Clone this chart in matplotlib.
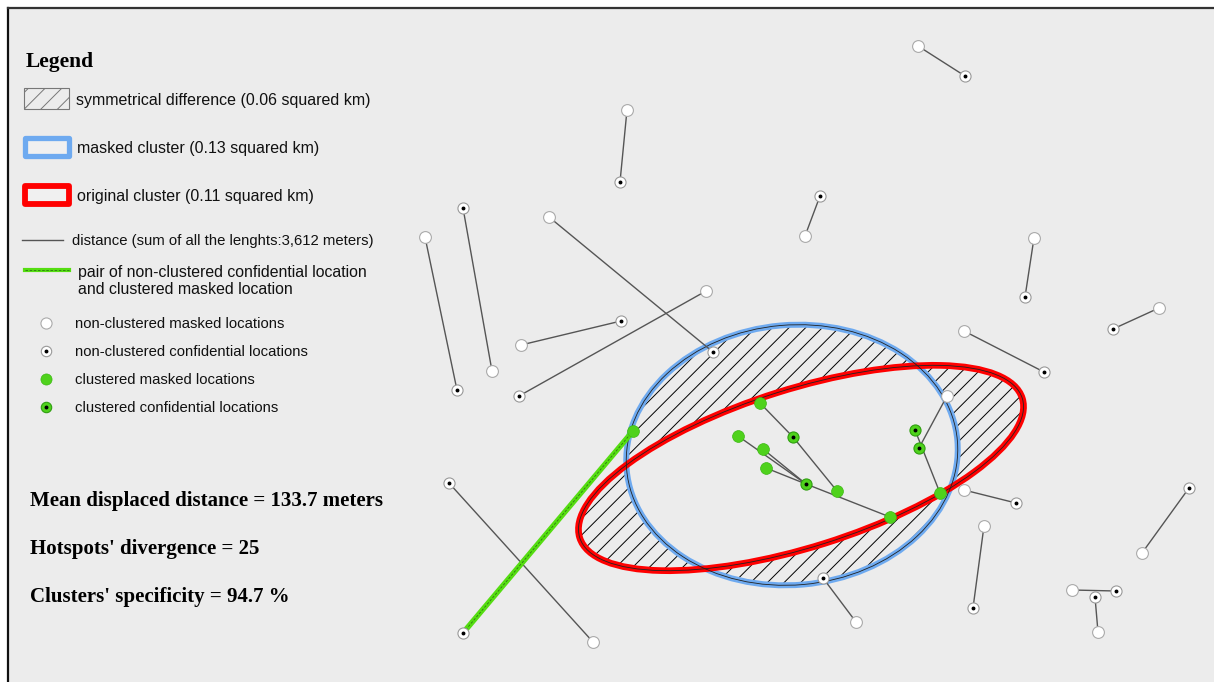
import matplotlib
matplotlib.use("Agg")
import matplotlib.pyplot as plt
from matplotlib.patches import Ellipse, Rectangle

# map is in image pixel units (x right, y down)
MAP_W, MAP_H = 1214, 682
BG = "#ececec"
BLUE = "#6eaaf0"
RED = "#ff0000"
GREEN = "#4fd21c"
LINE_GREY = "#555555"

# non-clustered masked locations
nc_masked_x = [918, 627, 805, 492, 425, 549, 706, 521, 1034, 1159, 964, 947,
               964, 984, 1142, 1072, 1098, 856, 593]
nc_masked_y = [46, 110, 236, 371, 237, 217, 291, 345, 238, 308, 331, 396,
               490, 526, 553, 590, 632, 622, 642]

# non-clustered confidential locations
nc_conf_x = [965, 620, 820, 463, 457, 713, 519, 621, 1025, 1113, 1044, 1016,
             973, 1189, 1116, 1095, 823, 449, 463]
nc_conf_y = [76, 182, 196, 208, 390, 352, 396, 321, 297, 329, 372, 503,
             608, 488, 591, 597, 578, 483, 633]

# clustered masked / confidential locations
cl_masked_x = [760, 738, 763, 766, 837, 890, 940, 633]
cl_masked_y = [403, 436, 449, 468, 491, 517, 493, 431]
cl_conf_x = [793, 806, 915, 919]
cl_conf_y = [437, 484, 430, 448]

# displacement links (masked -> confidential)
link_x0 = [918, 627, 805, 492, 425, 549, 706, 521, 1034, 1159, 964, 947, 964,
           984, 1142, 1072, 1098, 856, 593, 760, 837, 738, 763, 766, 890, 940]
link_y0 = [46, 110, 236, 371, 237, 217, 291, 345, 238, 308, 331, 396, 490,
           526, 553, 590, 632, 622, 642, 403, 491, 436, 449, 468, 517, 493]
link_x1 = [965, 620, 820, 463, 457, 713, 519, 621, 1025, 1113, 1044, 919, 1016,
           973, 1189, 1116, 1095, 823, 449, 793, 793, 806, 806, 806, 806, 915]
link_y1 = [76, 182, 196, 208, 390, 352, 396, 321, 297, 329, 372, 448, 503,
           608, 488, 591, 597, 578, 483, 437, 437, 484, 484, 484, 484, 430]

# the one pair: non-clustered confidential -> clustered masked
green_pair_x = [463, 633]
green_pair_y = [633, 431]

# cluster ellipses: centre, width, height, angle
masked_cluster = ((792, 455), 332, 260, -5)
orig_cluster = ((801, 468), 464, 158, -17.5)

legend_labels = [
    "symmetrical difference (0.06 squared km)",
    "masked cluster (0.13 squared km)",
    "original cluster (0.11 squared km)",
    "distance (sum of all the lenghts:3,612 meters)",
    "pair of non-clustered confidential location\nand clustered masked location",
    "non-clustered masked locations",
    "non-clustered confidential locations",
    "clustered masked locations",
    "clustered confidential locations",
]
stats = [
    "Mean displaced distance = 133.7 meters",
    "Hotspots' divergence = 25",
    "Clusters' specificity = 94.7 %",
]

plt.rcParams["hatch.linewidth"] = 0.7

fig = plt.figure(figsize=(12.14, 6.82), dpi=100, facecolor="white")
ax = fig.add_axes([0, 0, 1, 1])
ax.set_xlim(0, MAP_W)
ax.set_ylim(MAP_H, 0)
ax.axis("off")

# panel background and frame
ax.add_patch(Rectangle((8, 8), MAP_W, MAP_H, fc=BG, ec="none", zorder=0))
ax.plot([8, 8], [MAP_H, 8], color="#111111", lw=1.6, zorder=1)
ax.plot([8, MAP_W], [8, 8], color="#333333", lw=1.6, zorder=1)


def ellipse(spec, **kw):
    (cx, cy), w, h, ang = spec
    return Ellipse((cx, cy), w, h, angle=ang, **kw)


# symmetrical difference: hatch both, blank out the intersection
ax.add_patch(ellipse(masked_cluster, fc="none", ec="k", lw=0, hatch="//", zorder=2))
ax.add_patch(ellipse(orig_cluster, fc="none", ec="k", lw=0, hatch="//", zorder=2))
inter = ellipse(masked_cluster, fc=BG, ec="none", lw=0, zorder=3)
ax.add_patch(inter)
inter.set_clip_path(ellipse(orig_cluster, transform=ax.transData))

# cluster outlines
ax.add_patch(ellipse(masked_cluster, fc="none", ec=BLUE, lw=4.3, zorder=4))
ax.add_patch(ellipse(orig_cluster, fc="none", ec=RED, lw=4.8, zorder=5))
ax.add_patch(ellipse(masked_cluster, fc="none", ec="#222222", lw=0.6, zorder=6))
ax.add_patch(ellipse(orig_cluster, fc="none", ec="#222222", lw=0.6, zorder=6))

# distance lines
for x0, y0, x1, y1 in zip(link_x0, link_y0, link_x1, link_y1):
    ax.plot([x0, x1], [y0, y1], color=LINE_GREY, lw=1.0, zorder=7)

ax.plot(green_pair_x, green_pair_y, color="#55dd11", lw=4.0, zorder=7,
        solid_capstyle="round")
ax.plot(green_pair_x, green_pair_y, color="#2a7a10", lw=0.6, zorder=7,
        dashes=(3, 2))

# locations
ax.plot(nc_masked_x, nc_masked_y, "o", ms=8.5, mfc="white", mec="#aaaaaa",
        mew=0.8, zorder=8)
ax.plot(nc_conf_x, nc_conf_y, "o", ms=8, mfc="white", mec="#999999",
        mew=0.8, zorder=8)
ax.plot(nc_conf_x, nc_conf_y, "o", ms=1.8, color="black", zorder=9)
ax.plot(cl_masked_x, cl_masked_y, "o", ms=8.5, mfc=GREEN, mec="#3cb815",
        mew=0.5, zorder=8)
ax.plot(cl_conf_x, cl_conf_y, "o", ms=8, mfc=GREEN, mec="#2f9e10",
        mew=0.8, zorder=8)
ax.plot(cl_conf_x, cl_conf_y, "o", ms=1.8, color="black", zorder=9)

# ---- legend ----
sans = "Liberation Sans"
serif = "Liberation Serif"
ax.text(26, 62, "Legend", fontsize=15.5, fontweight="bold", family=serif,
        va="center", ha="left", zorder=10)

ax.add_patch(Rectangle((24, 88), 45, 21, fc=BG, ec="#777777", lw=0.8,
                       hatch="//", zorder=10))
ax.add_patch(Rectangle((24.5, 137.5), 44, 18, fc="#f0f0f0", ec=BLUE, lw=3.8,
                       joinstyle="round", zorder=10))
ax.add_patch(Rectangle((24.5, 185.5), 44, 18, fc="#f0f0f0", ec=RED, lw=4.2,
                       joinstyle="round", zorder=10))
ax.plot([22, 63], [240, 240], color=LINE_GREY, lw=1.0, zorder=10)
ax.plot([25, 69], [270, 270], color="#55dd11", lw=3.0, zorder=10)
ax.plot([25, 69], [270, 270], color="#2a7a10", lw=0.6, dashes=(3, 2), zorder=10)

ax.plot([46], [323], "o", ms=8, mfc="white", mec="#aaaaaa", mew=0.8, zorder=10)
ax.plot([46], [351], "o", ms=7.5, mfc="white", mec="#999999", mew=0.8, zorder=10)
ax.plot([46], [351], "o", ms=1.8, color="black", zorder=11)
ax.plot([46], [379], "o", ms=8, mfc=GREEN, mec="#3cb815", mew=0.5, zorder=10)
ax.plot([46], [407], "o", ms=7.5, mfc=GREEN, mec="#2f9e10", mew=0.8, zorder=10)
ax.plot([46], [407], "o", ms=1.8, color="black", zorder=11)

label_pos = [(76, 100), (77, 148), (77, 196), (72, 241), (78, 281),
             (75, 324), (75, 352), (75, 380), (75, 408)]
label_size = [11.5, 11.5, 11.5, 10.7, 11.4, 10.7, 10.7, 10.7, 10.7]
for (tx, ty), lab, fs in zip(label_pos, legend_labels, label_size):
    ax.text(tx, ty, lab, fontsize=fs, family=sans, va="center", ha="left",
            color="#111111", linespacing=1.15, zorder=10)

for i, s in enumerate(stats):
    ax.text(30, 501 + 48 * i, s, fontsize=15, fontweight="bold", family=serif,
            va="center", ha="left", zorder=10)

fig.savefig("out.png", dpi=100, facecolor="white")
